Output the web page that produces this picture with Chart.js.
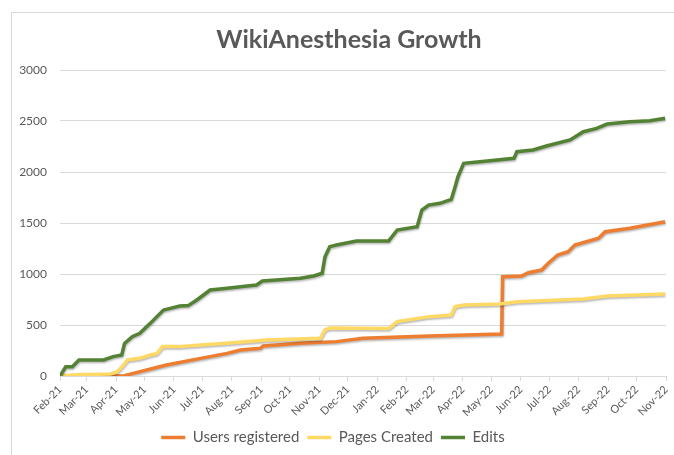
<!DOCTYPE html>
<html>
<head>
<meta charset="utf-8">
<script src="https://cdn.jsdelivr.net/npm/chart.js@4.4.1/dist/chart.umd.min.js"></script>
<style>
 html, body { margin: 0; padding: 0; background: #ffffff; }
 #wrap { width: 674px; height: 455px; position: relative; }
</style>
</head>
<body>
<div id="wrap"><canvas id="growthChart"></canvas></div>
<script>
var chartTitle = "WikiAnesthesia Growth";

// axis start and month tick labels
var startDate = "2021-02-01";
var monthLabels = ["Feb-21", "Mar-21", "Apr-21", "May-21", "Jun-21", "Jul-21", "Aug-21",
 "Sep-21", "Oct-21", "Nov-21", "Dec-21", "Jan-22", "Feb-22", "Mar-22", "Apr-22", "May-22",
 "Jun-22", "Jul-22", "Aug-22", "Sep-22", "Oct-22", "Nov-22"];
var monthDates = ["2021-02-01", "2021-03-01", "2021-04-01", "2021-05-01", "2021-06-01",
 "2021-07-01", "2021-08-01", "2021-09-01", "2021-10-01", "2021-11-01", "2021-12-01",
 "2022-01-01", "2022-02-01", "2022-03-01", "2022-04-01", "2022-05-01", "2022-06-01",
 "2022-07-01", "2022-08-01", "2022-09-01", "2022-10-01", "2022-11-01"];
var yTicks = [0, 500, 1000, 1500, 2000, 2500, 3000];

// Users registered
var usersDates = ["2021-02-01", "2021-04-09", "2021-04-19", "2021-05-24", "2021-06-29",
 "2021-07-27", "2021-08-10", "2021-08-31", "2021-09-03", "2021-10-12", "2021-11-19",
 "2021-12-17", "2022-02-25", "2022-05-12", "2022-05-13", "2022-06-02", "2022-06-09",
 "2022-06-23", "2022-06-30", "2022-07-10", "2022-07-21", "2022-07-28", "2022-08-22",
 "2022-08-29", "2022-09-24", "2022-10-31"];
var usersValues = [0, 0, 26, 108, 173, 222, 255, 271, 294, 320, 337, 369, 392, 412, 974,
 980, 1013, 1039, 1105, 1186, 1219, 1284, 1350, 1415, 1448, 1513];

// Pages Created
var pagesDates = ["2021-02-01", "2021-02-20", "2021-03-26", "2021-04-02", "2021-04-09",
 "2021-04-13", "2021-04-26", "2021-05-07", "2021-05-14", "2021-05-20", "2021-06-07",
 "2021-06-29", "2021-08-02", "2021-09-07", "2021-11-02", "2021-11-07", "2021-11-12",
 "2022-01-13", "2022-01-22", "2022-02-25", "2022-03-20", "2022-03-24", "2022-04-02",
 "2022-05-10", "2022-05-28", "2022-08-06", "2022-08-31", "2022-10-31"];
var pagesValues = [0, 12, 20, 40, 108, 157, 173, 206, 222, 288, 288, 304, 327, 353, 369,
 451, 470, 465, 533, 582, 598, 680, 696, 706, 729, 755, 784, 805];

// Edits
var editsDates = ["2021-02-01", "2021-02-07", "2021-02-14", "2021-02-21", "2021-03-19",
 "2021-03-29", "2021-04-07", "2021-04-10", "2021-04-18", "2021-04-26", "2021-05-07",
 "2021-05-14", "2021-05-21", "2021-05-28", "2021-06-07", "2021-06-16", "2021-06-25",
 "2021-07-02", "2021-07-09", "2021-07-27", "2021-08-17", "2021-08-27", "2021-09-02",
 "2021-09-17", "2021-10-12", "2021-10-26", "2021-11-04", "2021-11-07", "2021-11-12",
 "2021-11-19", "2021-12-10", "2022-01-13", "2022-01-22", "2022-02-12", "2022-02-17",
 "2022-02-24", "2022-03-08", "2022-03-20", "2022-03-24", "2022-03-27", "2022-04-02",
 "2022-04-19", "2022-05-25", "2022-05-28", "2022-06-14", "2022-06-28", "2022-07-23",
 "2022-08-06", "2022-08-20", "2022-08-31", "2022-09-24", "2022-10-15", "2022-10-31"];
var editsValues = [0, 91, 91, 157, 157, 190, 206, 320, 385, 418, 516, 582, 647, 663, 686,
 690, 745, 794, 843, 860, 882, 892, 931, 941, 958, 980, 1007, 1170, 1268, 1284, 1324,
 1324, 1431, 1464, 1627, 1676, 1693, 1732, 1856, 1954, 2085, 2101, 2134, 2199, 2216,
 2255, 2314, 2395, 2428, 2470, 2493, 2503, 2526];

var textColor = "#595959";
var gridColor = "#d9d9d9";
var fontName = "Lato, 'Open Sans', sans-serif";

function dayOf(dateStr) {
 var p = dateStr.split("-");
 var s = startDate.split("-");
 var a = Date.UTC(+p[0], +p[1] - 1, +p[2]);
 var b = Date.UTC(+s[0], +s[1] - 1, +s[2]);
 return Math.round((a - b) / 86400000);
}

function toPoints(dates, values) {
 return dates.map(function (d, i) {
  return { x: dayOf(d), y: values[i] };
 });
}

var monthDays = monthDates.map(dayOf);

// frame round the chart, title a bit right of centre like the original
var framePlugin = {
 id: "frame",
 beforeDraw: function (chart) {
  var ctx = chart.ctx;
  ctx.save();
  ctx.fillStyle = "#ffffff";
  ctx.fillRect(0, 0, chart.width, chart.height);
  ctx.strokeStyle = gridColor;
  ctx.lineWidth = 1;
  ctx.beginPath();
  ctx.moveTo(11.5, chart.height);
  ctx.lineTo(11.5, 12.5);
  ctx.lineTo(chart.width, 12.5);
  ctx.stroke();

  ctx.fillStyle = textColor;
  ctx.font = "bold 25px " + fontName;
  ctx.textAlign = "center";
  ctx.textBaseline = "middle";
  ctx.fillText(chartTitle, 349, 40);
  ctx.restore();
 },
 beforeDatasetsDraw: function (chart) {
  var ctx = chart.ctx;
  ctx.save();
  ctx.shadowColor = "rgba(0,0,0,0.28)";
  ctx.shadowBlur = 2;
  ctx.shadowOffsetX = 0.5;
  ctx.shadowOffsetY = 1.5;
 },
 afterDatasetsDraw: function (chart) {
  chart.ctx.restore();
 }
};

function makeSet(label, dates, values, color, order) {
 return {
  label: label,
  data: toPoints(dates, values),
  borderColor: color,
  backgroundColor: color,
  borderWidth: 3.5,
  pointRadius: 0,
  tension: 0,
  fill: false,
  order: order
 };
}

new Chart(document.getElementById("growthChart"), {
 type: "line",
 data: {
  datasets: [
   makeSet("Users registered", usersDates, usersValues, "#ED7D31", 3),
   makeSet("Pages Created", pagesDates, pagesValues, "#FFD966", 2),
   makeSet("Edits", editsDates, editsValues, "#548235", 1)
  ]
 },
 options: {
  responsive: true,
  maintainAspectRatio: false,
  animation: false,
  layout: { padding: { left: 0, right: 8, top: 70, bottom: 0 } },
  plugins: {
   title: { display: false },
   legend: {
    position: "bottom",
    labels: {
     usePointStyle: true,
     pointStyle: "line",
     pointStyleWidth: 24,
     color: textColor,
     font: { family: fontName, size: 15 },
     padding: 8,
     sort: function (a, b) { return a.datasetIndex - b.datasetIndex; }
    }
   },
   tooltip: { enabled: false }
  },
  scales: {
   x: {
    type: "linear",
    min: monthDays[0],
    max: monthDays[monthDays.length - 1],
    afterBuildTicks: function (scale) {
     scale.ticks = monthDays.map(function (d) { return { value: d }; });
    },
    afterFit: function (scale) {
     scale.height = 46;
     scale.paddingLeft = 0;
     scale.paddingRight = 0;
    },
    ticks: {
     autoSkip: false,
     maxRotation: 45,
     minRotation: 45,
     color: textColor,
     font: { family: fontName, size: 11 },
     padding: 2,
     callback: function (value) {
      var i = monthDays.indexOf(value);
      return i >= 0 ? monthLabels[i] : "";
     }
    },
    grid: {
     drawOnChartArea: false,
     drawTicks: true,
     tickLength: 5,
     color: gridColor
    },
    border: { color: gridColor }
   },
   y: {
    min: yTicks[0],
    max: yTicks[yTicks.length - 1],
    afterBuildTicks: function (scale) {
     scale.ticks = yTicks.map(function (v) { return { value: v }; });
    },
    afterFit: function (scale) {
     scale.width = 60;
    },
    ticks: {
     color: textColor,
     font: { family: fontName, size: 12 },
     padding: 13,
     callback: function (value) { return String(value); }
    },
    grid: { color: gridColor, drawTicks: false },
    border: { display: false }
   }
  }
 },
 plugins: [framePlugin]
});
</script>
</body>
</html>
